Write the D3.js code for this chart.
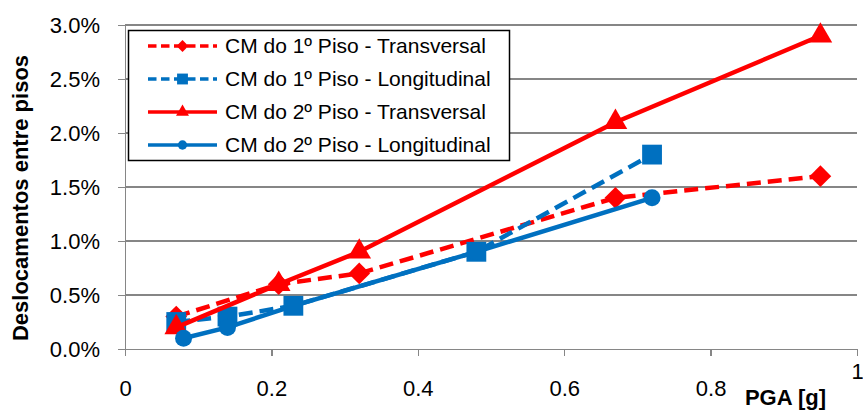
<!DOCTYPE html>
<meta charset="utf-8">
<style>
  body { margin: 0; background: #fff; }
  svg text { font-family: "Liberation Sans", Arial, sans-serif; fill: #000; }
  .axis path, .axis line { stroke: #868686; stroke-width: 1.5; shape-rendering: crispEdges; }
  .axis text { font-size: 22px; }
  .grid line { stroke: #868686; stroke-width: 1.5; shape-rendering: crispEdges; }
</style>
<body>
<svg class="chart" width="863" height="410"></svg>
<script src="https://d3js.org/d3.v7.min.js"></script>
<script>

// Data (PGA in g, drift as fraction)
var seriesNames = ["CM do 1º Piso - Transversal", "CM do 1º Piso - Longitudinal",
                   "CM do 2º Piso - Transversal", "CM do 2º Piso - Longitudinal"];
var pga1T = [0.07, 0.21, 0.32, 0.67, 0.95];
var drift1T = [0.003, 0.006, 0.007, 0.014, 0.016];
var pga1L = [0.07, 0.14, 0.23, 0.48, 0.72];
var drift1L = [0.0025, 0.003, 0.004, 0.009, 0.018];
var pga2T = [0.07, 0.21, 0.32, 0.67, 0.95];
var drift2T = [0.002, 0.006, 0.009, 0.021, 0.029];
var pga2L = [0.08, 0.14, 0.23, 0.48, 0.72];
var drift2L = [0.001, 0.002, 0.004, 0.009, 0.014];
var xTicks = [0, 0.2, 0.4, 0.6, 0.8, 1];
var yTicks = [0, 0.005, 0.01, 0.015, 0.02, 0.025, 0.03];

var red = "#ff0000", blue = "#0070c0";
var series = [
  { name: seriesNames[0], xs: pga1T, ys: drift1T, color: red,  dash: "14,7", marker: d3.symbolDiamond2,  size: 300 },
  { name: seriesNames[1], xs: pga1L, ys: drift1L, color: blue, dash: "14,7", marker: d3.symbolSquare2,   size: 500 },
  { name: seriesNames[2], xs: pga2T, ys: drift2T, color: red,  dash: null,   marker: d3.symbolTriangle2, size: 400 },
  { name: seriesNames[3], xs: pga2L, ys: drift2L, color: blue, dash: null,   marker: d3.symbolCircle,    size: 227 }
];

var svg = d3.select(".chart");
var plotL = 125, plotR = 857, plotT = 25, plotB = 349;

var x = d3.scaleLinear().domain([0, 1]).range([plotL, plotR]);
var y = d3.scaleLinear().domain([0, 0.03]).range([plotB, plotT]);

// horizontal gridlines
svg.append("g").attr("class", "grid")
  .selectAll("line").data(yTicks.slice(1)).enter().append("line")
  .attr("x1", plotL).attr("x2", plotR)
  .attr("y1", function(d) { return y(d); }).attr("y2", function(d) { return y(d); });

// y axis
svg.append("g").attr("class", "y axis")
  .attr("transform", "translate(" + plotL + ",0)")
  .call(d3.axisLeft(y).tickValues(yTicks).tickFormat(d3.format(".1%")).tickSize(7).tickPadding(18).tickSizeOuter(0));

// x axis
var xAx = svg.append("g").attr("class", "x axis")
  .attr("transform", "translate(0," + plotB + ")")
  .call(d3.axisBottom(x).tickValues(xTicks).tickFormat(function(d) { return d === 0 || d === 1 ? d3.format("d")(d) : d3.format(".1f")(d); })
        .tickSize(7).tickPadding(24).tickSizeOuter(0));
// the "1" label sits higher in the original
xAx.selectAll(".tick").filter(function(d) { return d === 1; }).select("text").attr("y", 14);

// axis titles
svg.append("text")
  .attr("transform", "rotate(-90)")
  .attr("x", -198).attr("y", 28)
  .style("text-anchor", "middle").style("font-size", "22px").style("font-weight", "bold")
  .text("Deslocamentos entre pisos");

svg.append("text")
  .attr("x", 826).attr("y", 405)
  .style("text-anchor", "end").style("font-size", "22px").style("font-weight", "bold")
  .text("PGA [g]");

// lines and markers
var line = d3.line().x(function(d) { return x(d[0]); }).y(function(d) { return y(d[1]); });

series.forEach(function(s) {
  var pts = s.xs.map(function(v, i) { return [v, s.ys[i]]; });
  var g = svg.append("g");
  g.append("path")
    .datum(pts)
    .attr("d", line)
    .attr("fill", "none")
    .attr("stroke", s.color)
    .attr("stroke-width", 4.5)
    .attr("stroke-dasharray", s.dash);
  g.selectAll("path.m").data(pts).enter().append("path")
    .attr("class", "m")
    .attr("transform", function(d) { return "translate(" + x(d[0]) + "," + y(d[1]) + ")"; })
    .attr("d", d3.symbol().type(s.marker).size(s.size))
    .attr("fill", s.color);
});

// legend
var legend = svg.append("g");
legend.append("rect")
  .attr("x", 128.5).attr("y", 30.5).attr("width", 381).attr("height", 130)
  .attr("fill", "#fff").attr("stroke", "#000").attr("stroke-width", 1.5);

series.forEach(function(s, i) {
  var ly = 46 + i * 33;
  legend.append("line")
    .attr("x1", 148).attr("x2", 217).attr("y1", ly).attr("y2", ly)
    .attr("stroke", s.color).attr("stroke-width", 3.5)
    .attr("stroke-dasharray", s.dash ? "8.5,4.5" : null);
  legend.append("path")
    .attr("transform", "translate(182.5," + ly + ")")
    .attr("d", d3.symbol().type(s.marker).size(s.size * 0.3))
    .attr("fill", s.color);
  legend.append("text")
    .attr("x", 225).attr("y", ly).attr("dy", "0.35em")
    .style("font-size", "21px")
    .text(s.name);
});

</script>
</body>
